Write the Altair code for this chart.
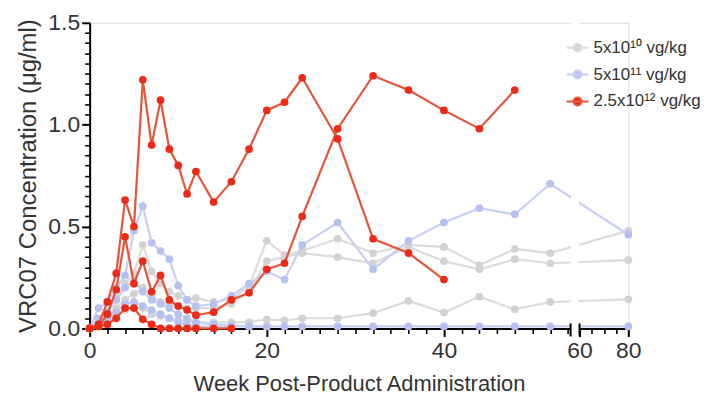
import altair as alt
import pandas as pd

# ---------------- data ----------------
groups = ["5x10¹⁰ vg/kg", "5x10¹¹ vg/kg", "2.5x10¹² vg/kg"]
line_colors = ["#dcdcdc", "#c8cff4", "#e6553a"]
point_colors = ["#d2d2d2", "#b6c0f1", "#ec2a18"]

weeks = [0, 1, 2, 3, 4, 5, 6, 7, 8, 9, 10, 11, 12, 14, 16, 18, 20, 22, 24, 28, 32, 36, 40, 44, 48, 52, 80]

# 5x10^10 vg/kg animals
g1 = [0, 0.03, 0.08, 0.15, 0.22, 0.27, 0.41, 0.28, 0.22, 0.18, 0.16, 0.14, 0.15, 0.13, 0.14, 0.21, 0.43, 0.36, 0.38, 0.44, 0.37, 0.41, 0.40, 0.31, 0.39, 0.37, 0.48]
g2 = [0, 0.02, 0.05, 0.10, 0.14, 0.17, 0.20, 0.16, 0.13, 0.12, 0.11, 0.10, 0.10, 0.10, 0.12, 0.18, 0.33, 0.35, 0.37, 0.35, 0.32, 0.40, 0.33, 0.29, 0.34, 0.32, 0.335]
g3 = [0, 0.01, 0.03, 0.06, 0.09, 0.10, 0.10, 0.07, 0.06, 0.05, 0.04, 0.04, 0.03, 0.03, 0.03, 0.03, 0.045, 0.04, 0.05, 0.05, 0.075, 0.135, 0.078, 0.156, 0.094, 0.13, 0.143]

# 5x10^11 vg/kg animals
b1 = [0, 0.10, 0.13, 0.20, 0.26, 0.48, 0.60, 0.42, 0.38, 0.34, 0.21, 0.14, 0.11, 0.12, 0.16, 0.22, 0.28, 0.24, 0.41, 0.52, 0.29, 0.43, 0.52, 0.59, 0.56, 0.71, 0.46]
b2 = [0, 0.05, 0.08, 0.14, 0.20, 0.23, 0.18, 0.14, 0.12, 0.10, 0.07, 0.05, 0.03, 0.02, 0.015, 0.01, 0.01, 0.01, 0.01, 0.01, 0.01, 0.01, 0.01, 0.01, 0.01, 0.01, 0.01]
b3 = [0, 0.03, 0.05, 0.08, 0.12, 0.13, 0.11, 0.09, 0.07, 0.05, 0.03, 0.02, 0.01, 0.01, 0.01, 0.01, 0.01]

# 2.5x10^12 vg/kg animals
r1 = [0, 0.02, 0.13, 0.27, 0.63, 0.50, 1.22, 0.90, 1.12, 0.88, 0.80, 0.66, 0.77, 0.62, 0.72, 0.88, 1.07, 1.11, 1.23, 0.93, 0.44, 0.37, 0.24]
r2 = [0, 0.01, 0.07, 0.19, 0.45, 0.22, 0.33, 0.18, 0.26, 0.14, 0.11, 0.09, 0.065, 0.08, 0.14, 0.175, 0.29, 0.32, 0.55, 0.98, 1.24, 1.17, 1.07, 0.98, 1.17]
r3 = [0, 0.01, 0.02, 0.05, 0.10, 0.10, 0.045, 0.02, 0, 0, 0, 0, 0, 0, 0]

x_labels = [0, 20, 40, 60, 80]
x_ticks = list(range(0, 55, 2)) + [60, 65, 70, 75, 80]
y_labels = [0, 0.5, 1.0, 1.5]
y_ticks = [round(i * 0.05, 2) for i in range(0, 31)]
break_marks = [54.3, 60]

series = [
    (groups[0], "G1", g1), (groups[0], "G2", g2), (groups[0], "G3", g3),
    (groups[1], "B1", b1), (groups[1], "B2", b2), (groups[1], "B3", b3),
    (groups[2], "R1", r1), (groups[2], "R2", r2), (groups[2], "R3", r3),
]
rows = []
for grp, animal, vals in series:
    for w, v in zip(weeks, vals):
        rows.append({"group": grp, "animal": animal, "week": w, "value": v})
df = pd.DataFrame(rows)

# ---------------- chart ----------------
W, H = 541, 307
FONT = "Liberation Sans"
TXT = "#333333"

xscale = alt.Scale(domain=[0, 54.3, 60, 80], range=[0, 483, 492, W], nice=False, zero=False)
yscale = alt.Scale(domain=[0, 1.5], nice=False, zero=False)

x_major_test = "indexof([0, 20, 40, 60, 80], datum.value) >= 0"
y_major_test = "abs(datum.value * 2 - round(datum.value * 2)) < 0.001"

xaxis = alt.Axis(values=x_ticks, tickCount=1000, title="Week Post-Product Administration", format="d",
                 labelExpr=f"{x_major_test} ? datum.label : ''",
                 grid=False, domainColor="black", domainWidth=2, tickColor="black",
                 tickWidth={"condition": {"test": x_major_test, "value": 2}, "value": 1.6},
                 tickSize={"condition": {"test": x_major_test, "value": 8}, "value": 5},
                 labelFontSize=23, labelColor=TXT, labelFont=FONT, labelOverlap=False,
                 labelPadding=3, titleFontSize=22, titleFont=FONT, titleColor=TXT,
                 titleFontWeight="normal", titlePadding=11, labelFlush=False)
yaxis = alt.Axis(values=y_ticks, tickCount=1000, title="VRC07 Concentration (μg/ml)", format=".1f",
                 labelExpr=f"{y_major_test} ? datum.label : ''",
                 grid=False, domainColor="black", domainWidth=2, tickColor="black",
                 tickWidth={"condition": {"test": y_major_test, "value": 2}, "value": 1.6},
                 tickSize={"condition": {"test": y_major_test, "value": 8}, "value": 5},
                 labelFontSize=23, labelColor=TXT, labelFont=FONT, labelOverlap=False,
                 labelPadding=2, titleFontSize=24, titleFont=FONT, titleColor=TXT,
                 titleFontWeight="normal", titlePadding=7)

X = alt.X("week:Q", scale=xscale, axis=xaxis)
Y = alt.Y("value:Q", scale=yscale, axis=yaxis)

legend_path = "M-1,0H1M-0.36,0A0.36,0.36,0,1,0,0.36,0A0.36,0.36,0,1,0,-0.36,0Z"

layers = []
for i, grp in enumerate(groups):
    base = alt.Chart(df).transform_filter(alt.datum.group == grp)
    layers.append(base.mark_line(strokeWidth=2.2, color=line_colors[i]).encode(
        x=X, y=Y, detail="animal:N", order="week:Q"))
    layers.append(base.mark_circle(size=60, opacity=1, color=point_colors[i]).encode(x=X, y=Y))

legend_layer = alt.Chart(df).mark_point(filled=True, opacity=0, size=0).encode(
    x=X, y=Y,
    fill=alt.Fill("group:N", scale=alt.Scale(domain=groups, range=point_colors),
                  legend=alt.Legend(orient="none", legendX=478, legendY=13, title=None,
                                    symbolType=legend_path, symbolSize=484,
                                    symbolStrokeWidth=2, symbolOpacity=1,
                                    labelFontSize=17, labelFont=FONT, labelColor=TXT,
                                    labelOffset=4, rowPadding=7)),
    stroke=alt.Stroke("group:N", scale=alt.Scale(domain=groups, range=line_colors), legend=None),
)

gap = alt.Chart(df).mark_rect(color="white").encode(
    x=alt.datum(54.6, scale=xscale, axis=xaxis), x2=alt.datum(59.6),
    y=alt.value(-2), y2=alt.value(H + 3))

breaks = alt.Chart(pd.DataFrame({"week": break_marks})).mark_rule(color="black", strokeWidth=2).encode(
    x=X, y=alt.value(H - 5), y2=alt.value(H + 8))

chart = alt.layer(*layers, legend_layer, gap, breaks).properties(
    width=W, height=H, padding={"left": 9, "top": 3, "right": 5, "bottom": 5}
).configure_view(stroke=None).configure(background="white")

chart.save("out.html", embed_options={"renderer": "svg", "actions": False})
